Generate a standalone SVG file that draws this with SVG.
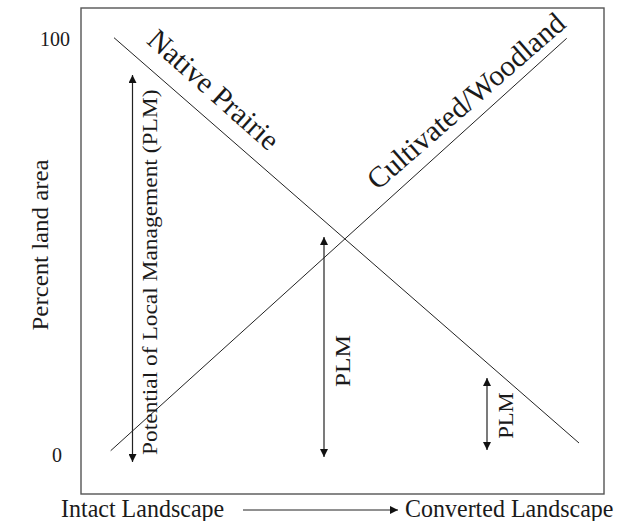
<svg xmlns="http://www.w3.org/2000/svg" width="637" height="521" viewBox="0 0 637 521">
<style>
text{font-family:"Liberation Serif","Times New Roman",serif;fill:#1a1a1a}
.ln{stroke:#222;stroke-width:1;fill:none}
.ar{stroke:#222;stroke-width:1.2;fill:none;marker-start:url(#ah);marker-end:url(#ah)}
</style>
<defs>
<marker id="ah" viewBox="0 0 10 10" refX="10" refY="5" markerWidth="8" markerHeight="8" markerUnits="userSpaceOnUse" orient="auto-start-reverse">
<path d="M0,0 L10,5 L0,10 Z" fill="#111"/>
</marker>
<marker id="ah2" viewBox="0 0 10 10" refX="10" refY="5" markerWidth="8" markerHeight="8" markerUnits="userSpaceOnUse" orient="auto">
<path d="M0,0 L10,5 L0,10 Z" fill="#111"/>
</marker>
</defs>
<rect width="637" height="521" fill="#fff"/>
<g id="frame">
<rect x="81" y="8" width="523" height="486" fill="none" stroke="#555" stroke-width="1.4"/>
</g>
<g id="axes-labels">
<text transform="translate(40,46) scale(1,1.1)" font-size="20">100</text>
<text transform="translate(52,462) scale(1,1.1)" font-size="20">0</text>
<text transform="translate(48,245) rotate(-90) scale(1.08,1)" font-size="23" text-anchor="middle">Percent land area</text>
<text transform="translate(61,517) scale(1,1.08)" font-size="24">Intact Landscape</text>
<text transform="translate(405,517) scale(1,1.08)" font-size="24">Converted Landscape</text>
</g>
<g id="connectors">
<line class="ln" x1="114" y1="37.7" x2="579" y2="443"/>
<line class="ln" x1="110.7" y1="450.7" x2="566.7" y2="38.3"/>
<line class="ar" x1="132.5" y1="75" x2="132.5" y2="462"/>
<line class="ar" x1="324" y1="237" x2="324" y2="457"/>
<line class="ar" x1="487" y1="378" x2="487" y2="450"/>
<line class="ln" x1="243" y1="510" x2="398" y2="510" marker-end="url(#ah2)"/>
</g>
<g id="native-prairie">
<text transform="translate(207,97) rotate(41.7)" font-size="29.5" text-anchor="middle">Native Prairie</text>
</g>
<g id="cultivated-woodland">
<text transform="translate(472.5,108.5) rotate(-41)" font-size="29.5" text-anchor="middle">Cultivated/Woodland</text>
</g>
<g id="plm-labels">
<text transform="translate(157,455) rotate(-90) scale(1.09,1)" font-size="21.5">Potential of Local Management (PLM)</text>
<text transform="translate(350,361) rotate(-90) scale(1.15,1)" font-size="22" text-anchor="middle">PLM</text>
<text transform="translate(513,415.5) rotate(-90) scale(1.1,1)" font-size="20.5" text-anchor="middle">PLM</text>
</g>
</svg>
